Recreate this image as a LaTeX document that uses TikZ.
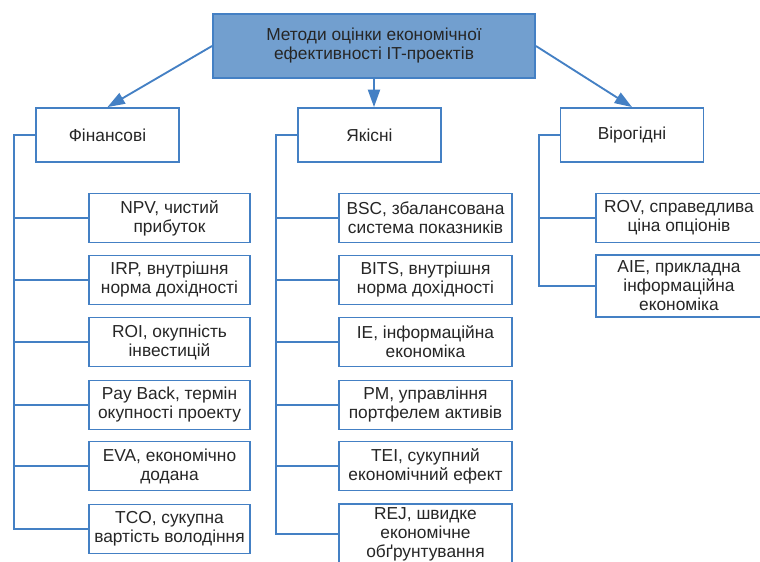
\documentclass[tikz,border=0pt]{standalone}
\usepackage{fontspec}
\setmainfont{Liberation Sans}
\usetikzlibrary{arrows.meta,positioning}

\definecolor{edge}{RGB}{68,128,196}
\definecolor{headfill}{RGB}{114,159,207}

\begin{document}
\begin{tikzpicture}[
  x=0.75pt, y=-0.75pt,
  font=\fontsize{13}{14.25}\selectfont, text=black!85,
  box/.style={draw=edge, line width=1.4pt, fill=white, align=center, inner sep=2pt},
  head/.style={box, fill=headfill, minimum width=241.5pt, minimum height=48pt},
  group/.style={box, minimum width=107.25pt, minimum height=40.5pt},
  fitem/.style={box, minimum width=120.75pt, minimum height=36.75pt},
  qitem/.style={box, minimum width=129.75pt, minimum height=36.75pt},
  ritem/.style={box, minimum width=124.5pt, minimum height=36.75pt},
  link/.style={draw=edge, line width=1.4pt},
  arr/.style={link, -{Triangle[length=13pt, width=9pt]}}
]
\useasboundingbox (0,0) rectangle (760,561);
\clip (0,0) rectangle (760,561);

\node[head] (title) at (374,46) {Методи оцінки економічної\\ефективності IT-проектів};

\node[group] (fin) at (107.5,135) {Фінансові};
\node[group] (qual) at (369.5,135) {Якісні};
\node[group] (prob) at (632,135) {Вірогідні};

% financial methods
\node[fitem] (npv) at (169.5,218) {NPV, чистий\\прибуток};
\node[fitem] (irp) at (169.5,280) {IRP, внутрішня\\норма дохідності};
\node[fitem] (roi) at (169.5,342) {ROI, окупність\\інвестицій};
\node[fitem] (payb) at (169.5,405) {Pay Back, термін\\окупності проекту};
\node[fitem] (eva) at (169.5,466) {EVA, економічно\\додана};
\node[fitem] (tco) at (169.5,529) {TCO, сукупна\\вартість володіння};

% qualitative methods
\node[qitem] (bsc) at (425.5,218) {BSC, збалансована\\система показників};
\node[qitem] (bits) at (425.5,280) {BITS, внутрішня\\норма дохідності};
\node[qitem] (ie) at (425.5,342) {IE, інформаційна\\економіка};
\node[qitem] (pm) at (425.5,405) {PM, управління\\портфелем активів};
\node[qitem] (tei) at (425.5,466) {TEI, сукупний\\економічний ефект};
\node[qitem, minimum height=45pt] (rej) at (425.5,534) {REJ, швидке\\економічне\\обґрунтування};

% probabilistic methods
\node[ritem] (rov) at (679,218) {ROV, справедлива\\ціна опціонів};
\node[ritem, minimum height=46.5pt] (aie) at (679,286) {AIE, прикладна\\інформаційна\\економіка};

\draw[arr] (title.west) -- (fin.north);
\draw[arr] (title.south) -- (title.south |- qual.north);
\draw[arr] (title.east) -- (prob.north);

\coordinate (ft) at (14,135);
\coordinate (qt) at (276,135);
\coordinate (pt) at (539,135);

\draw[link] (fin.west) -- (ft) |- (tco.west);
\draw[link] (ft |- npv.west) -- (npv.west);
\draw[link] (ft |- irp.west) -- (irp.west);
\draw[link] (ft |- roi.west) -- (roi.west);
\draw[link] (ft |- payb.west) -- (payb.west);
\draw[link] (ft |- eva.west) -- (eva.west);

\draw[link] (qual.west) -- (qt) |- (rej.west);
\draw[link] (qt |- bsc.west) -- (bsc.west);
\draw[link] (qt |- bits.west) -- (bits.west);
\draw[link] (qt |- ie.west) -- (ie.west);
\draw[link] (qt |- pm.west) -- (pm.west);
\draw[link] (qt |- tei.west) -- (tei.west);

\draw[link] (prob.west) -- (pt) |- (aie.west);
\draw[link] (pt |- rov.west) -- (rov.west);
\end{tikzpicture}
\end{document}
